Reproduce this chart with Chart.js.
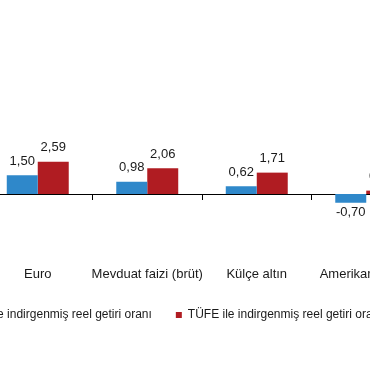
<!DOCTYPE html>
<html lang="tr">
<head>
<meta charset="UTF-8">
<title>Reel getiri oranları</title>
<script src="https://cdn.jsdelivr.net/npm/chart.js"></script>
<style>
  html, body { margin: 0; padding: 0; background: #fff; overflow: hidden; }
  /* the picture is a crop of a wider chart, so the canvas runs past both edges */
  .wrap { position: absolute; left: -86px; top: 0; width: 507px; height: 366px; }
</style>
</head>
<body>
<div class="wrap"><canvas id="chart"></canvas></div>
<script>
const categories = ['Euro', 'Mevduat faizi (brüt)', 'Külçe altın', 'Amerikan Doları'];
const seriesNames = ['ÜFE ile indirgenmiş reel getiri oranı', 'TÜFE ile indirgenmiş reel getiri oranı'];
const ufeValues = [1.50, 0.98, 0.62, -0.70];
const tufeValues = [2.59, 2.06, 1.71, 0.27];

const FONT = 'Arial, "Liberation Sans", sans-serif';
Chart.defaults.font.family = FONT;
Chart.defaults.color = '#1a1a1a';

// value labels above (or below) each bar, with a decimal comma
const valueLabels = {
  id: 'valueLabels',
  afterDatasetsDraw(chart) {
    const ctx = chart.ctx;
    ctx.save();
    ctx.font = '13px ' + FONT;
    ctx.fillStyle = '#1a1a1a';
    ctx.textAlign = 'center';
    ctx.textBaseline = 'middle';
    chart.data.datasets.forEach((ds, i) => {
      chart.getDatasetMeta(i).data.forEach((bar, j) => {
        const v = ds.data[j];
        const y = v >= 0 ? bar.y - 14 : bar.y + 10;
        ctx.fillText(v.toFixed(2).replace('.', ','), bar.x, y);
      });
    });
    ctx.restore();
  }
};

new Chart(document.getElementById('chart'), {
  type: 'bar',
  data: {
    labels: categories,
    datasets: [
      { label: seriesNames[0], data: ufeValues, backgroundColor: '#2F88CA', borderWidth: 0,
        categoryPercentage: 0.566, barPercentage: 1 },
      { label: seriesNames[1], data: tufeValues, backgroundColor: '#B01C22', borderWidth: 0,
        categoryPercentage: 0.566, barPercentage: 1 }
    ]
  },
  options: {
    responsive: true,
    maintainAspectRatio: false,
    animation: false,
    layout: { padding: { top: 69, bottom: 35, left: 0, right: 0 } },
    plugins: {
      legend: {
        position: 'bottom',
        labels: { boxWidth: 6, boxHeight: 6, padding: 24, font: { size: 12 }, color: '#1a1a1a' }
      },
      tooltip: { enabled: false }
    },
    scales: {
      x: {
        position: 'bottom',
        grid: { display: false, drawTicks: false },
        border: { display: false },
        ticks: { font: { size: 13 }, color: '#1a1a1a', padding: 3, maxRotation: 0, autoSkip: false },
        afterFit: s => { s.height = 21; }
      },
      x2: {
        type: 'category',
        position: { y: 0 },
        offset: true,
        grid: { offset: true, drawOnChartArea: false, drawTicks: true, tickLength: 5, color: '#000' },
        border: { display: true, color: '#000', width: 1 },
        ticks: { display: false }
      },
      y: {
        min: -5.6,
        max: 10,
        ticks: { display: false },
        grid: { display: false },
        border: { display: false },
        afterFit: s => { s.width = 69; }
      }
    }
  },
  plugins: [valueLabels]
});
</script>
</body>
</html>
